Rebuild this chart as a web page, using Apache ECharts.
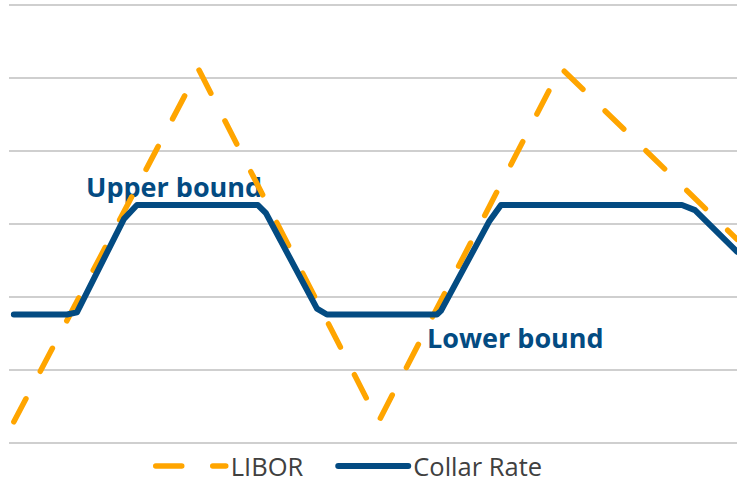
<!DOCTYPE html>
<html>
<head>
<meta charset="utf-8">
<script src="https://cdn.jsdelivr.net/npm/echarts@6/dist/echarts.min.js"></script>
<style>
  html, body { margin: 0; padding: 0; background: #ffffff; }
  #chart { width: 737px; height: 478px; }
</style>
</head>
<body>
<div id="chart"></div>
<script>
// LIBOR path: time (months) and rate (%)
const liborTime = [0, 15.2, 30, 45, 59.5];
const liborRate = [0.29, 5.12, 0.29, 5.14, 2.79];

// Collar rate path: time (months) and rate (%)
const collarTime = [0, 4.37, 5.19, 9.06, 10.13, 20.08, 20.74, 24.94, 25.76, 34.81, 35.14, 39.09, 40.08, 54.97, 56.04, 59.5];
const collarRate = [1.76, 1.76, 1.79, 3.07, 3.26, 3.26, 3.15, 1.84, 1.76, 1.76, 1.81, 3.03, 3.26, 3.26, 3.19, 2.62];

// Series names and band annotations
const seriesNames = ['LIBOR', 'Collar Rate'];
const boundLabels = ['Upper bound', 'Lower bound'];

const BLUE = '#034B82';
const ORANGE = '#FFA500';

const liborLine = { color: ORANGE, width: 5.5, type: [26, 31], cap: 'round', join: 'round' };
const collarLine = { color: BLUE, width: 6, type: 'solid', cap: 'round', join: 'round' };

const pairs = (xs, ys) => xs.map((x, i) => [x, ys[i]]);

const chart = echarts.init(document.getElementById('chart'), null, { renderer: 'svg' });

chart.setOption({
  animation: false,
  backgroundColor: '#ffffff',
  grid: { left: 9, right: 0, top: 5, bottom: 35, containLabel: false },
  xAxis: {
    type: 'value',
    min: -0.4,
    max: 59.5,
    show: false
  },
  yAxis: {
    type: 'value',
    min: 0,
    max: 6,
    interval: 1,
    axisLine: { show: false },
    axisTick: { show: false },
    axisLabel: { show: false },
    splitLine: { show: true, lineStyle: { color: '#BFBFBF', width: 1.6 } }
  },
  legend: {
    data: [
      { name: seriesNames[0], lineStyle: liborLine, itemStyle: { opacity: 0 } },
      { name: seriesNames[1], lineStyle: collarLine, itemStyle: { opacity: 0 } }
    ],
    left: 153,
    top: 453,
    padding: 0,
    itemWidth: 70,
    itemHeight: 24,
    itemGap: 32,
    textStyle: {
      fontFamily: 'Open Sans',
      fontSize: 25.5,
      lineHeight: 24,
      color: '#404040'
    }
  },
  series: [
    {
      name: seriesNames[0],
      type: 'line',
      data: pairs(liborTime, liborRate),
      symbol: 'none',
      showSymbol: false,
      lineStyle: liborLine,
      itemStyle: { color: ORANGE }
    },
    {
      name: seriesNames[1],
      type: 'line',
      data: pairs(collarTime, collarRate),
      symbol: 'none',
      showSymbol: false,
      lineStyle: collarLine,
      itemStyle: { color: BLUE }
    }
  ],
  graphic: [
    {
      type: 'text',
      left: 86,
      top: 173,
      style: {
        text: boundLabels[0],
        fill: BLUE,
        font: 'bold 27px "Open Sans"'
      }
    },
    {
      type: 'text',
      left: 427,
      top: 324,
      style: {
        text: boundLabels[1],
        fill: BLUE,
        font: 'bold 27px "Open Sans"'
      }
    }
  ]
});
</script>
</body>
</html>
